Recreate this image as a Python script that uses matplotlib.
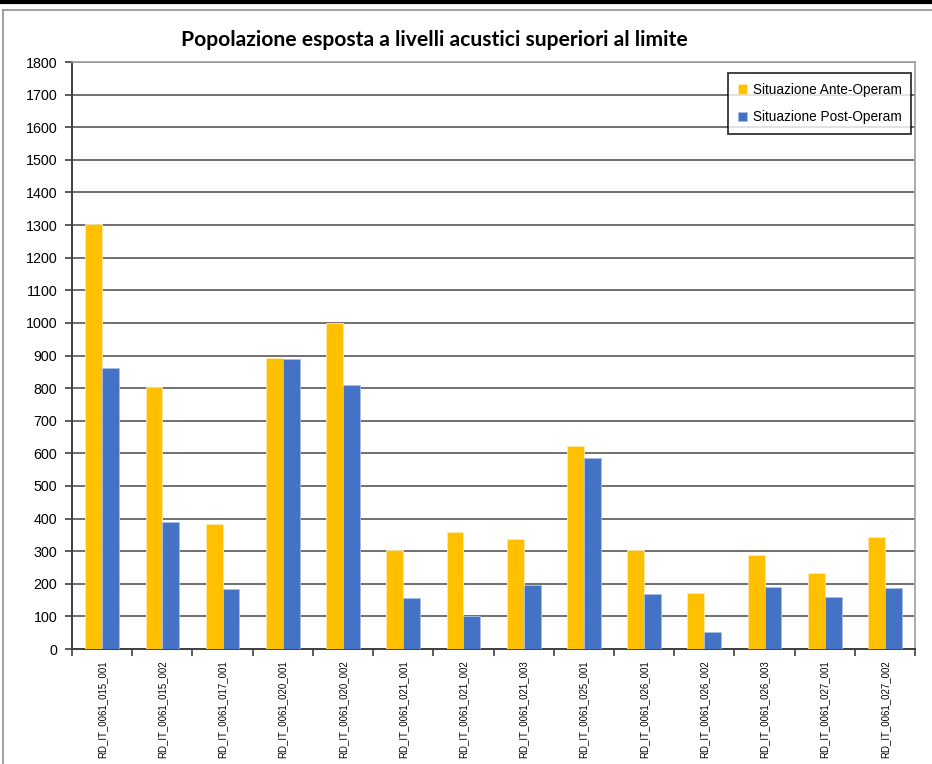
import numpy as np
import matplotlib.pyplot as plt
from matplotlib.lines import Line2D

plt.rcParams['font.family'] = ['Lato', 'DejaVu Sans']

punti = ['RD_IT_0061_015_001', 'RD_IT_0061_015_002', 'RD_IT_0061_017_001',
         'RD_IT_0061_020_001', 'RD_IT_0061_020_002', 'RD_IT_0061_021_001',
         'RD_IT_0061_021_002', 'RD_IT_0061_021_003', 'RD_IT_0061_025_001',
         'RD_IT_0061_026_001', 'RD_IT_0061_026_002', 'RD_IT_0061_026_003',
         'RD_IT_0061_027_001', 'RD_IT_0061_027_002']
ante_operam = [1302, 802, 383, 893, 999, 303, 360, 336, 623, 303, 172, 287, 232, 345]
post_operam = [861, 391, 184, 888, 809, 155, 100, 195, 586, 168, 51, 190, 161, 188]

giallo = '#FFC000'
blu = '#4472C4'

fig = plt.figure(figsize=(9.32, 7.64), dpi=100)
ax = fig.add_axes([0.0773, 0.1505, 0.9045, 0.7683])

x = np.arange(len(punti))
w = 0.28
ax.bar(x - w / 2, ante_operam, w, color=giallo, edgecolor='#FFE9A8', linewidth=0.6,
       label='Situazione Ante-Operam', zorder=3)
ax.bar(x + w / 2, post_operam, w, color=blu, edgecolor='#A9BFE8', linewidth=0.6,
       label='Situazione Post-Operam', zorder=3)

ax.set_xlim(-0.5, len(punti) - 0.5)
ax.set_ylim(0, 1800)
ax.set_yticks(np.arange(0, 1801, 100))
ax.yaxis.grid(True, color='#707070', linewidth=1.4, zorder=0)
ax.set_axisbelow(True)

# ticks on category boundaries, labels centred under each pair
ax.set_xticks(np.arange(len(punti) + 1) - 0.5)
ax.set_xticklabels([])
ax.set_xticks(x, minor=True)
ax.set_xticklabels(punti, minor=True, rotation=90, fontsize=6.9, family='Liberation Sans')
ax.tick_params(axis='x', which='minor', length=0, pad=8)
ax.tick_params(axis='x', which='major', length=5, width=1.2, color='#404040')
ax.tick_params(axis='y', length=5, width=1.2, color='#404040', labelsize=10.3, pad=5.5)
for lab in ax.get_yticklabels():
    lab.set_family('Liberation Sans')

for side in ['left', 'bottom']:
    ax.spines[side].set_color('#404040')
    ax.spines[side].set_linewidth(1.4)
for side in ['top', 'right']:
    ax.spines[side].set_color('#a0a0a0')
    ax.spines[side].set_linewidth(1.2)

leg = ax.legend(loc='upper right', bbox_to_anchor=(0.9953, 0.981), borderaxespad=0,
                fontsize=9.8, frameon=True, fancybox=False, handlelength=0.7,
                handleheight=0.7, handletextpad=0.4, labelspacing=1.0, borderpad=0.7)
leg.get_frame().set_edgecolor('black')
leg.get_frame().set_linewidth(1.3)
for t in leg.get_texts():
    t.set_family('Liberation Sans')

fig.text(0.466, 0.947, 'Popolazione esposta a livelli acustici superiori al limite',
         ha='center', va='center', fontsize=15.2, fontweight='bold')

# outer frame of the sheet
fig.add_artist(Line2D([0, 1], [0.998, 0.998], color='black', linewidth=3))
fig.add_artist(Line2D([0.003, 1], [0.987, 0.987], color='#909090', linewidth=1.2))
fig.add_artist(Line2D([0.0035, 0.0035], [0, 0.987], color='#909090', linewidth=1.2))

fig.savefig('out.png', dpi=100)
